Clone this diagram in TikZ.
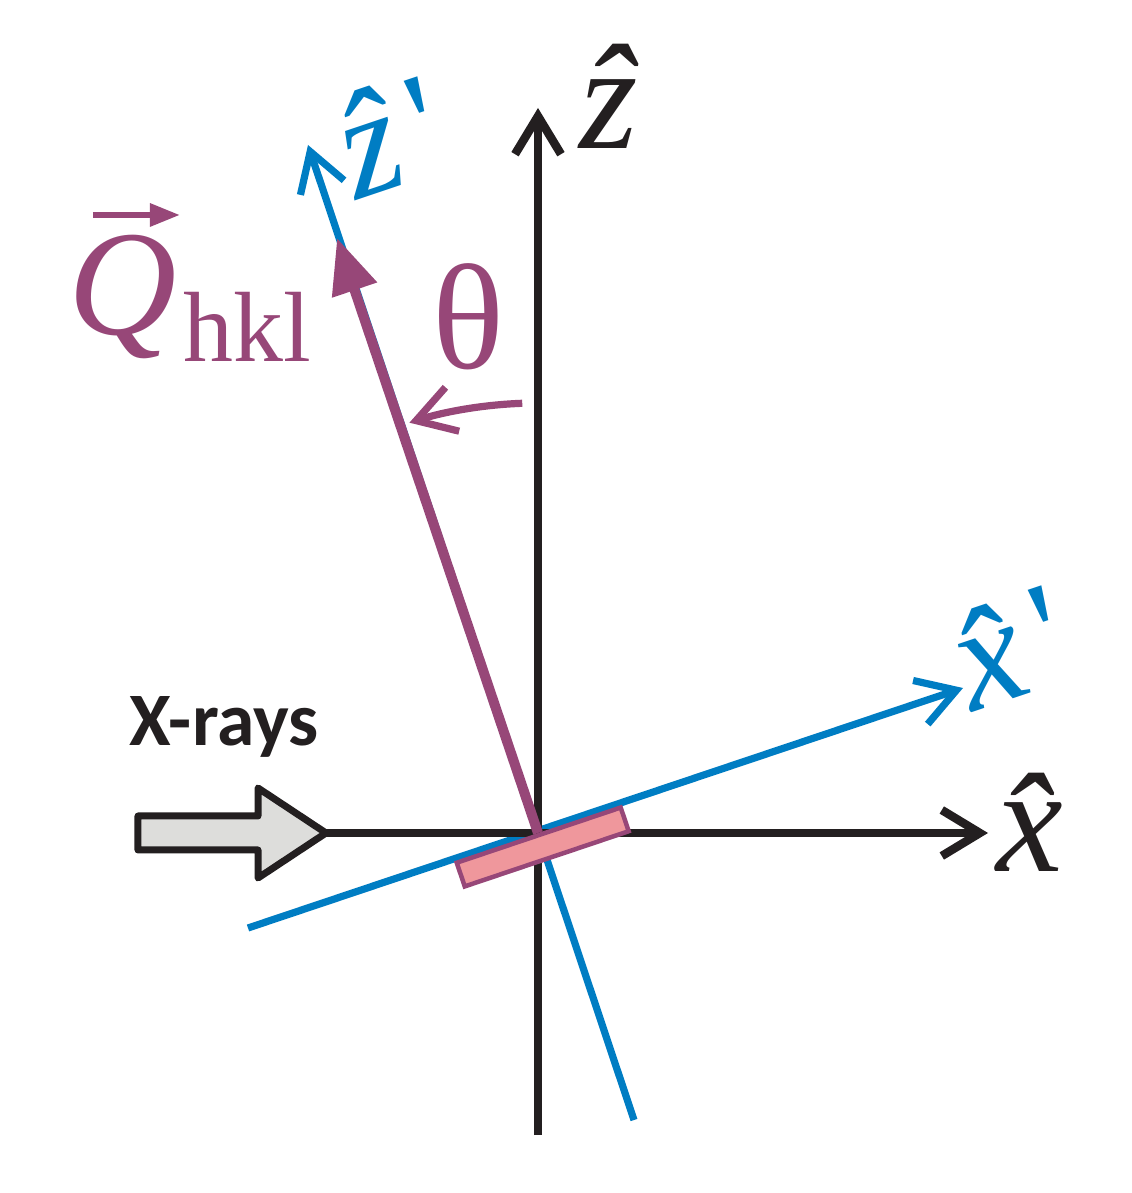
\documentclass[tikz,border=0pt]{standalone}
\usepackage{fontspec}
\setmainfont{Liberation Serif}
\newfontfamily\beamfont{Carlito}
\usetikzlibrary{arrows.meta}
\definecolor{axisblack}{RGB}{35,31,32}
\definecolor{axisblue}{RGB}{0,125,195}
\definecolor{qpurple}{RGB}{151,71,120}
\definecolor{samplepink}{RGB}{239,151,156}
\definecolor{beamgrey}{RGB}{221,221,219}
\newcommand{\lblbig}{\fontsize{42.7}{48}\selectfont}
\newcommand{\lblsub}{\fontsize{28.4}{32}\selectfont}
\newcommand{\lblbeam}{\fontsize{21.5}{25}\selectfont}
\newcommand{\hatted}[1]{\rlap{\textit{#1^^^^0302}}\phantom{\textit{#1}}}
\newcommand{\primed}{\kern0.12em\textquotesingle}
\tikzset{
  barb/.style={-{Straight Barb[sharp,length=3.8mm,width=4.6mm]}},
  blackaxis/.style={draw=axisblack,line width=0.85mm,barb},
  blueaxis/.style={draw=axisblue,line width=0.72mm,barb},
  lbl/.style={inner sep=0pt,font=\lblbig}
}

\begin{document}
\begin{tikzpicture}
\useasboundingbox (-5.38,-3.60) rectangle (5.93,8.33);
\coordinate (0) at (0,0);
\coordinate (zbot) at (0,-3.02);
\coordinate (ztop) at (0,7.25);
\coordinate (beam) at (-2.12,0);
\coordinate (xtop) at (4.50,0);
\coordinate (xpbot) at (-2.90,-0.95);
\coordinate (xptop) at (4.25,1.45);
\coordinate (zpbot) at (0.96,-2.87);
\coordinate (zptop) at (-2.30,6.88);
\coordinate (qtip) at (-2.01,5.95);
\coordinate (arcstart) at (92.1:4.30);
\node[lbl, text=axisblack, anchor=base] (zhat) at (0.71,6.84) {\hatted{z}};
\node[lbl, text=axisblack, anchor=base] (xhat) at (4.92,-0.39) {\hatted{x}};
\node[lbl, text=axisblue, rotate=18.6] (xphat) at (4.72,1.85) {\hatted{x}\primed};
\node[lbl, text=axisblue, rotate=18.6] (zphat) at (-1.49,6.98) {\hatted{z}\primed};
\node[lbl, text=qpurple, anchor=base] (theta) at (-0.70,4.64) {θ};
\node[lbl, text=qpurple, anchor=base] (qsym) at (-4.15,4.98) {\textit{Q}};
\node[lbl, font=\lblsub, text=qpurple, anchor=base west] (hkl) at (-3.55,4.71) {hkl};
\node[inner sep=0pt, font=\beamfont\bfseries\lblbeam, text=axisblack, anchor=base west] (xrays) at (-4.09,0.87) {X-rays};
\draw[blueaxis] (xpbot) -- (xptop);
\draw[blueaxis] (zpbot) -- (zptop);
\draw[blackaxis] (zbot) -- (ztop);
\draw[blackaxis] (beam) -- (xtop);
\draw[draw=qpurple, line width=0.72mm, barb] (arcstart) arc[start angle=92.1, end angle=107.4, radius=4.30];
\draw[draw=qpurple, line width=1mm, -{Triangle[length=5.5mm,width=4.5mm]}] (0) -- (qtip);
\draw[qpurple, line width=0.6mm, -{Triangle[length=3mm,width=2.2mm]}] ([shift={(-0.30,1.20)}]qsym.base) -- ([shift={(0.57,1.20)}]qsym.base);
\node[draw=qpurple, fill=samplepink, line width=0.45mm, minimum width=1.73cm, minimum height=0.25cm, inner sep=0pt, rotate=18.6, anchor=north] (sample) at (0) {};
\draw[draw=axisblack, fill=beamgrey, line width=0.7mm, line join=round] (beam) -- ++(-0.68,0.45) -- ++(0,-0.28) -- ++(-1.2,0) -- ++(0,-0.34) -- ++(1.2,0) -- ++(0,-0.28) -- cycle;
\end{tikzpicture}
\end{document}
